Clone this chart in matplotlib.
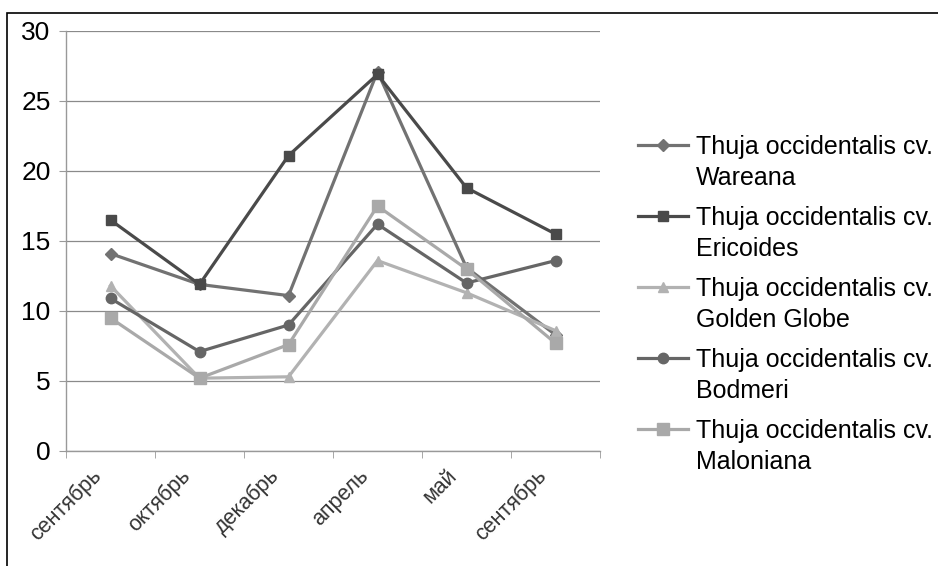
import matplotlib
matplotlib.use('Agg')
from matplotlib import pyplot as plt
from matplotlib.patches import Rectangle

months = ['сентябрь', 'октябрь', 'декабрь', 'апрель', 'май', 'сентябрь']

wareana = [14.1, 11.9, 11.1, 27.1, 13.1, 8.3]
ericoides = [16.5, 11.9, 21.1, 26.9, 18.8, 15.5]
golden_globe = [11.8, 5.2, 5.3, 13.6, 11.3, 8.6]
bodmeri = [10.9, 7.1, 9.0, 16.2, 12.0, 13.6]
maloniana = [9.5, 5.2, 7.6, 17.5, 13.0, 7.7]

prefix = 'Thuja occidentalis cv.'
cultivars = ['Wareana', 'Ericoides', 'Golden Globe', 'Bodmeri', 'Maloniana']

plt.rcParams['font.family'] = ['Liberation Sans', 'DejaVu Sans']

W, H = 938, 566
fig = plt.figure(figsize=(W / 100, H / 100), dpi=100)
fig.patches.append(Rectangle((7/W, -0.1), 1.2, 1 - 13/H + 0.1, transform=fig.transFigure,
                             fill=False, edgecolor='black', linewidth=1.2))
ax = fig.add_axes([66/W, 1 - 451/H, 534/W, 420/H])

x = list(range(len(months)))
series = [
    (wareana, '#727272', 'D', 6.5),
    (ericoides, '#4a4a4a', 's', 7.5),
    (golden_globe, '#b2b2b2', '^', 7.5),
    (bodmeri, '#666666', 'o', 7.5),
    (maloniana, '#a9a9a9', 's', 8.5),
]
for (vals, col, mk, ms), name in zip(series, cultivars):
    ax.plot(x, vals, color=col, marker=mk, markersize=ms, linewidth=2.3, label=prefix)

ax.set_xlim(-0.5, 5.5)
ax.set_ylim(0, 30)
ax.set_yticks(range(0, 31, 5))
ax.yaxis.grid(True, color='#8a8a8a', linewidth=0.9)
ax.set_axisbelow(True)
for s in ['top', 'right']:
    ax.spines[s].set_visible(False)
for s in ['left', 'bottom']:
    ax.spines[s].set_color('#999999')
    ax.spines[s].set_linewidth(1.0)

# visible ticks sit between categories; labels end a little left of each point
ax.set_xticks([i - 0.5 for i in range(7)], minor=True)
ax.set_xticks([i - 0.22 for i in x])
ax.set_xticklabels(months, rotation=45, ha='right', va='top', rotation_mode='anchor',
                   fontsize=15.5, color='#333333')
ax.tick_params(axis='x', which='major', length=0, pad=10)
ax.tick_params(axis='x', which='minor', length=5, color='#999999', direction='out')
ax.tick_params(axis='y', length=5, color='#999999', labelsize=19, pad=6)

fs = 18
leg = fig.legend(loc='upper left', bbox_to_anchor=(638/W, 1 - 135/H), frameon=False,
                 fontsize=fs, labelspacing=1.88, handlelength=2.0, handletextpad=0.3,
                 borderaxespad=0, borderpad=0)

fig.canvas.draw()
for t, name in zip(leg.get_texts(), cultivars):
    bb = t.get_window_extent()
    fig.text(bb.x0 / W, ((bb.y0 + bb.y1) / 2 - 31) / H, name, fontsize=fs,
             va='center', ha='left')

fig.savefig('out.png', dpi=100)
